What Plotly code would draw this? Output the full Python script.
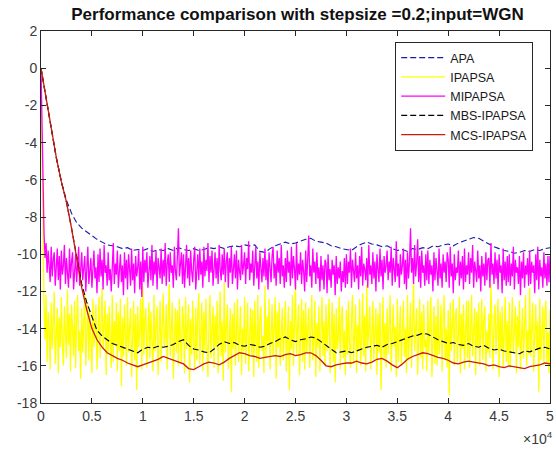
import numpy as np
import plotly.graph_objects as go

# ---------------- data ----------------
title_text = "Performance comparison with stepsize =0.2;input=WGN"
series_names = ["APA", "IPAPSA", "MIPAPSA", "MBS-IPAPSA", "MCS-IPAPSA"]

x_tick_vals = [0, 5000, 10000, 15000, 20000, 25000, 30000, 35000, 40000, 45000, 50000]
x_tick_text = ["0", "0.5", "1", "1.5", "2", "2.5", "3", "3.5", "4", "4.5", "5"]
y_tick_vals = [-18, -16, -14, -12, -10, -8, -6, -4, -2, 0, 2]
y_tick_text = ["-18", "-16", "-14", "-12", "-10", "-8", "-6", "-4", "-2", "0", "2"]

# noisy curves sampled every 100 iterations
noisy_step = 100
ipapsa = [
    0, -4.5, -9.0, -12.8, -14.6, -12.2, -15.8, -13.1, -14.0, -16.2, -12.6, -15.1, -13.7, -12.0, -15.9, -14.2, -12.9, -16.4, -13.4, -15.0,
    -12.3, -14.7, -16.0, -12.8, -13.9, -15.6, -11.9, -14.9, -13.2, -16.3, -12.7, -14.4, -15.5, -12.5, -16.1, -13.6, -12.2, -15.2, -14.1, -16.7,
    -12.9, -15.3, -13.5, -12.1, -16.0, -14.3, -12.6, -15.7, -13.0, -14.8, -16.4, -12.4, -15.0, -13.8, -12.7, -16.2, -14.5, -12.3, -15.6, -13.3,
    -11.8, -15.1, -14.0, -12.5, -16.5, -13.2, -15.4, -12.8, -14.6, -16.1, -12.2, -15.8, -13.6, -14.9, -12.6, -16.3, -13.1, -15.2, -12.4, -17.1,
    -13.4, -15.5, -12.7, -14.2, -16.0, -12.3, -15.3, -13.9, -12.9, -16.6, -14.4, -12.5, -15.7, -13.2, -17.3, -12.8, -15.0, -14.1, -12.4, -16.2,
    -11.7, -15.4, -13.5, -12.9, -16.1, -14.3, -12.6, -15.6, -13.1, -14.7, -16.3, -12.2, -15.2, -13.7, -12.8, -16.5, -14.0, -12.5, -15.8, -13.3,
    -12.1, -15.0, -14.4, -12.7, -16.2, -13.4, -11.6, -15.5, -13.9, -12.6, -16.7, -14.2, -12.9, -15.3, -13.0, -16.0, -12.4, -14.8, -15.9, -12.8,
    -13.6, -16.4, -12.3, -15.1, -14.0, -12.7, -16.9, -13.5, -15.4, -12.5, -14.6, -16.2, -12.9, -15.7, -13.2, -12.1, -15.9, -14.4, -12.6, -16.3,
    -13.1, -15.2, -12.4, -14.8, -16.6, -13.7, -12.2, -15.6, -14.1, -12.8, -16.1, -13.3, -15.0, -12.5, -16.4, -14.2, -12.0, -15.5, -13.6, -16.8,
    -11.5, -15.3, -13.9, -12.7, -16.2, -14.5, -12.9, -17.4, -13.2, -15.1, -12.6, -16.0, -14.3, -12.4, -15.8, -13.5, -12.8, -16.5, -14.0, -15.2,
    -12.3, -15.9, -13.4, -12.6, -16.3, -14.1, -12.9, -15.4, -13.0, -16.6, -12.5, -14.7, -15.8, -12.2, -16.1, -13.6, -12.8, -15.2, -14.4, -16.4,
    -11.7, -15.6, -13.3, -14.9, -12.4, -16.2, -13.8, -12.7, -15.5, -14.2, -12.3, -16.7, -13.1, -15.0, -12.6, -16.0, -14.5, -12.9, -15.7, -13.2,
    -12.5, -16.3, -14.0, -12.8, -17.3, -13.6, -15.1, -12.2, -16.0, -14.3, -11.6, -15.4, -13.5, -12.7, -16.5, -14.1, -12.4, -15.8, -13.0, -16.2,
    -12.6, -15.3, -14.4, -12.9, -16.1, -13.3, -12.2, -15.7, -14.6, -12.5, -16.6, -13.7, -15.0, -12.8, -16.3, -14.2, -12.3, -15.5, -13.6, -16.0,
    -12.7, -15.2, -13.9, -12.4, -16.4, -14.0, -12.6, -15.8, -13.2, -16.9, -12.9, -15.1, -14.5, -12.3, -16.2, -13.5, -12.8, -15.6, -14.1, -16.5,
    -13.0, -15.4, -12.5, -14.7, -16.1, -13.4, -12.2, -15.9, -14.3, -12.7, -16.4, -13.8, -15.2, -12.4, -16.0, -14.6, -12.1, -15.5, -13.3, -16.3,
    -11.6, -15.1, -14.0, -12.8, -16.2, -13.6, -12.5, -15.7, -14.4, -12.9, -16.5, -13.2, -15.3, -12.6, -17.3, -14.1, -12.3, -15.6, -13.7, -16.1,
    -12.9, -15.4, -13.3, -12.2, -16.3, -14.5, -12.7, -15.0, -13.9, -16.6, -12.4, -15.8, -14.2, -12.8, -16.0, -13.5, -12.5, -15.5, -14.0, -16.4,
    -12.2, -15.7, -13.8, -12.6, -16.1, -14.3, -11.5, -15.2, -13.4, -12.9, -16.5, -14.0, -12.4, -15.6, -13.1, -16.2, -12.7, -15.0, -14.6, -16.3,
    -12.5, -15.3, -13.6, -12.3, -16.6, -14.2, -12.8, -15.9, -13.3, -16.0, -12.4, -15.4, -14.5, -12.7, -16.3, -13.7, -12.2, -15.7, -14.0, -16.1,
    -13.0, -17.6, -12.6, -15.2, -14.1, -12.4, -16.0, -13.5, -12.9, -15.8, -14.4, -12.3, -16.4, -13.2, -15.1, -12.7, -16.2, -14.0, -12.5, -15.6,
    -12.5, -16.1, -13.8, -12.2, -15.5, -14.3, -12.9, -16.5, -13.1, -15.0, -12.6, -16.0, -14.6, -12.4, -15.7, -13.4, -12.8, -16.3, -14.1, -15.3,
    -13.2, -15.6, -11.6, -14.9, -16.2, -13.5, -12.7, -15.4, -14.0, -12.4, -16.6, -13.1, -15.2, -12.8, -16.1, -14.4, -12.3, -15.8, -13.6, -16.0,
    -12.6, -16.1, -13.9, -12.3, -15.3, -14.2, -12.8, -16.4, -13.3, -15.0, -12.5, -16.2, -14.5, -12.9, -15.6, -13.7, -12.2, -16.0, -14.1, -15.4,
    -11.8, -15.5, -13.4, -12.6, -16.3, -14.0, -12.7, -15.1, -13.6, -17.4, -12.4, -15.7, -14.3, -12.8, -16.0, -13.2, -12.5, -15.9, -14.2, -16.4,
    -13.0,
]
mipapsa = [
    0, -3.5, -6.8, -8.9, -10.2, -9.4, -11.0, -9.8, -10.6, -11.5, -9.6, -11.2, -10.3, -9.9, -11.7, -10.5, -9.7, -11.4, -10.1, -11.9,
    -9.8, -11.1, -10.6, -9.5, -11.6, -10.2, -10.9, -11.8, -9.7, -11.3, -10.4, -9.9, -11.9, -10.6, -10.0, -11.5, -10.8, -9.6, -11.7, -10.3,
    -9.9, -11.4, -10.7, -10.1, -12.0, -10.4, -9.6, -11.6, -10.9, -10.2, -11.8, -10.5, -9.8, -11.3, -10.7, -12.1, -10.0, -11.5, -9.7, -11.2,
    -10.3, -11.9, -9.5, -11.0, -10.6, -11.7, -9.9, -11.4, -10.8, -12.0, -10.2, -9.4, -11.6, -10.5, -11.1, -9.8, -11.8, -10.4, -10.0, -11.5,
    -10.6, -12.2, -9.9, -11.3, -10.3, -11.9, -10.0, -10.8, -11.7, -9.7, -11.4, -10.5, -12.1, -10.1, -11.2, -10.7, -9.8, -11.9, -10.4, -12.3,
    -9.6, -11.5, -10.3, -11.0, -9.9, -11.8, -10.6, -10.1, -11.4, -9.5, -11.7, -10.4, -11.1, -9.8, -11.9, -10.2, -10.7, -11.3, -9.7, -11.6,
    -10.3, -11.2, -9.4, -11.7, -10.5, -10.0, -11.5, -9.9, -11.0, -10.6, -11.8, -9.6, -10.9, -11.4, -10.1, -8.6, -11.2, -10.4, -9.9, -11.6,
    -10.0, -11.8, -10.5, -9.5, -11.3, -10.2, -11.7, -9.8, -10.9, -11.5, -10.3, -9.6, -11.9, -10.6, -10.0, -11.4, -9.7, -11.1, -10.4, -11.8,
    -9.6, -11.2, -10.3, -10.9, -9.4, -11.5, -10.1, -11.0, -9.8, -11.7, -10.5, -9.9, -11.3, -10.2, -11.6, -9.5, -10.8, -11.4, -10.0, -11.1,
    -9.7, -11.5, -10.4, -9.9, -11.8, -10.2, -11.0, -9.6, -11.6, -10.5, -10.0, -11.3, -9.8, -11.9, -10.3, -10.9, -11.4, -9.5, -11.1, -10.6,
    -9.9, -11.6, -10.2, -10.8, -9.3, -11.4, -10.5, -11.0, -9.8, -11.7, -10.1, -9.6, -11.3, -10.4, -11.9, -9.9, -10.7, -11.5, -10.2, -11.2,
    -9.7, -11.4, -10.3, -11.9, -9.9, -10.8, -11.5, -10.1, -9.6, -11.3, -10.5, -11.7, -9.8, -11.0, -10.2, -11.6, -9.5, -11.2, -10.6, -11.8,
    -10.2, -11.5, -9.8, -11.0, -10.4, -11.7, -9.6, -11.3, -10.1, -10.8, -11.9, -9.4, -11.4, -10.5, -11.1, -9.9, -11.6, -10.3, -10.9, -12.0,
    -9.8, -11.5, -10.2, -9.0, -11.2, -10.6, -11.8, -9.7, -11.0, -10.4, -11.6, -9.9, -11.3, -10.7, -12.0, -10.1, -11.4, -10.6, -11.9, -10.3,
    -10.5, -12.1, -10.0, -11.4, -10.8, -11.8, -10.3, -11.1, -10.6, -12.2, -10.1, -11.6, -10.7, -11.3, -10.4, -12.0, -10.9, -11.5, -10.2, -11.8,
    -10.0, -11.6, -10.4, -11.0, -9.7, -11.8, -10.3, -10.9, -11.5, -9.9, -11.3, -10.6, -11.9, -10.1, -11.2, -9.6, -11.7, -10.5, -10.8, -11.4,
    -10.2, -11.8, -9.5, -11.1, -10.6, -11.6, -9.9, -11.3, -10.4, -12.0, -10.0, -10.8, -11.5, -9.7, -11.2, -10.3, -11.9, -10.1, -11.0, -10.6,
    -9.8, -11.4, -10.4, -11.0, -9.6, -11.7, -10.2, -10.8, -11.5, -9.3, -11.2, -10.5, -11.8, -10.0, -11.1, -10.6, -9.7, -11.6, -10.3, -11.9,
    -9.9, -11.3, -10.4, -8.6, -11.0, -10.2, -11.6, -9.5, -11.2, -10.5, -9.2, -11.5, -10.1, -11.8, -9.8, -11.0, -10.6, -11.7, -10.0, -11.4,
    -9.8, -11.6, -10.3, -11.1, -10.6, -12.0, -9.9, -11.4, -10.2, -10.9, -11.7, -9.7, -11.3, -10.5, -11.8, -10.0, -11.0, -10.4, -11.5, -9.9,
    -10.3, -11.8, -9.6, -11.2, -10.5, -12.1, -10.0, -11.4, -10.7, -11.0, -9.8, -11.7, -10.4, -11.3, -10.1, -11.9, -9.7, -11.5, -10.6, -11.1,
    -9.9, -11.6, -10.2, -11.0, -9.5, -11.8, -10.4, -10.9, -11.5, -9.8, -11.3, -10.6, -12.0, -10.1, -11.2, -10.5, -11.7, -9.9, -11.4, -10.3,
    -10.2, -11.8, -9.4, -11.1, -10.5, -11.6, -9.9, -11.3, -10.3, -11.9, -10.0, -11.0, -10.6, -12.1, -9.7, -11.4, -10.4, -11.7, -10.1, -11.5,
    -10.0, -11.7, -10.5, -11.2, -9.6, -11.9, -10.3, -11.0, -10.7, -11.6, -10.1, -12.2, -10.4, -11.3, -9.9, -11.8, -10.6, -11.1, -10.2, -11.7,
    -9.8, -11.6, -10.4, -11.0, -10.6, -12.1, -10.0, -11.4, -9.6, -11.9, -10.3, -11.2, -10.7, -11.8, -9.9, -11.3, -10.5, -11.7, -10.1, -11.5,
    -10.1,
]

# smooth curves sampled every 500 iterations
smooth_step = 500
apa = [
    0, -1.6, -3.2, -4.8, -6.1, -7.1, -7.8, -8.3, -8.6, -8.8,
    -9.0, -9.2, -9.35, -9.5, -9.55, -9.6, -9.7, -9.65, -9.8, -9.75,
    -9.8, -9.7, -9.85, -9.75, -9.8, -9.7, -9.8, -9.65, -9.75, -9.8,
    -9.7, -9.8, -9.75, -9.65, -9.7, -9.6, -9.7, -9.6, -9.55, -9.6,
    -9.5, -9.55, -9.5, -9.85, -9.9, -9.7, -9.55, -9.45, -9.35, -9.45,
    -9.4, -9.3, -9.2, -9.15, -9.3, -9.35, -9.4, -9.55, -9.6, -9.7,
    -9.75, -9.8, -9.6, -9.45, -9.35, -9.45, -9.5, -9.6, -9.55, -9.7,
    -9.8, -9.75, -9.85, -9.7, -9.75, -9.65, -9.7, -9.55, -9.6, -9.5,
    -9.45, -9.55, -9.4, -9.3, -9.2, -9.1, -9.15, -9.3, -9.45, -9.6,
    -9.7, -9.8, -9.85, -9.95, -9.9, -9.8, -9.85, -9.75, -9.8, -9.7, -9.65,
]
mbs_ipapsa = [
    0, -1.6, -3.2, -4.8, -6.1, -7.2, -8.6, -10.2, -11.6, -12.6,
    -13.3, -14.1, -14.4, -14.6, -14.8, -14.9, -15.0, -15.1, -15.2, -15.3,
    -15.1, -15.0, -15.05, -14.95, -15.0, -14.95, -14.85, -14.7, -14.6, -14.9,
    -15.1, -15.15, -15.25, -15.3, -15.1, -14.85, -14.7, -14.8, -14.75, -14.9,
    -14.95, -14.85, -14.9, -15.0, -14.95, -14.8, -14.7, -14.55, -14.45, -14.6,
    -14.7, -14.6, -14.55, -14.45, -14.5, -14.7, -14.9, -15.1, -15.3, -15.25,
    -15.2, -15.3, -15.2, -15.1, -15.0, -14.95, -14.9, -15.0, -14.85, -14.8,
    -14.7, -14.6, -14.5, -14.4, -14.35, -14.25, -14.3, -14.45, -14.6, -14.7,
    -14.8, -14.75, -14.85, -14.9, -14.8, -14.95, -15.0, -14.9, -15.05, -15.15,
    -15.1, -15.2, -15.25, -15.3, -15.35, -15.2, -15.25, -15.15, -15.05, -15.0, -15.1,
]
mcs_ipapsa = [
    0, -1.6, -3.2, -4.8, -6.1, -7.2, -8.6, -10.2, -11.8, -13.0,
    -14.0, -14.6, -15.0, -15.3, -15.45, -15.6, -15.7, -15.85, -15.95, -16.05,
    -15.95, -15.85, -15.75, -15.65, -15.5, -15.6, -15.7, -15.8, -15.9, -16.15,
    -16.2, -16.05, -15.9, -15.8, -15.85, -15.95, -15.8, -15.6, -15.45, -15.3,
    -15.35, -15.45, -15.5, -15.6, -15.55, -15.5, -15.45, -15.5, -15.4, -15.35,
    -15.45, -15.4, -15.3, -15.3, -15.45, -15.7, -16.0, -16.05, -15.95, -15.9,
    -15.85, -15.85, -15.75, -15.85, -15.9, -15.8, -15.65, -15.6, -15.75, -15.95,
    -16.1, -15.9, -15.65, -15.5, -15.4, -15.3, -15.35, -15.45, -15.55, -15.6,
    -15.7, -15.85, -15.9, -15.8, -15.75, -15.8, -15.85, -15.9, -16.0, -15.95,
    -16.05, -16.1, -16.0, -16.05, -16.1, -16.15, -16.05, -16.0, -15.95, -15.85, -15.9,
]

# ---------------- figure ----------------
W, H = 556, 450
ML, MR, MT, MB = 41, 2, 31, 47
PW, PH = W - ML - MR, H - MT - MB
axis_col = "#262626"
txt_col = "#3a3a3a"
font_fam = "Liberation Sans, Arial, Helvetica, sans-serif"

fig = go.Figure()
fig.add_trace(go.Scatter(x=np.arange(len(apa)) * smooth_step, y=apa, mode="lines",
                         name=series_names[0],
                         line=dict(color="#1a1aa8", width=1.1, dash="6px,3px")))
fig.add_trace(go.Scatter(x=np.arange(len(ipapsa)) * noisy_step, y=ipapsa, mode="lines",
                         name=series_names[1], line=dict(color="#ffff00", width=1.3)))
fig.add_trace(go.Scatter(x=np.arange(len(mipapsa)) * noisy_step, y=mipapsa, mode="lines",
                         name=series_names[2], line=dict(color="#ff00ff", width=1.3)))
fig.add_trace(go.Scatter(x=np.arange(len(mbs_ipapsa)) * smooth_step, y=mbs_ipapsa, mode="lines",
                         name=series_names[3],
                         line=dict(color="#000000", width=1.1, dash="6px,3px")))
fig.add_trace(go.Scatter(x=np.arange(len(mcs_ipapsa)) * smooth_step, y=mcs_ipapsa, mode="lines",
                         name=series_names[4], line=dict(color="#cc1a0a", width=1.3)))

fig.update_layout(
    width=W, height=H,
    margin=dict(l=ML, r=MR, t=MT, b=MB, pad=0),
    paper_bgcolor="white", plot_bgcolor="white",
    font=dict(family=font_fam, color=txt_col, size=14),
    title=dict(text="<b>" + title_text + "</b>", x=297.5 / W, xanchor="center",
               y=1 - 14 / H, yanchor="middle",
               font=dict(size=17, color="#111111", family=font_fam)),
    showlegend=True,
    legend=dict(x=(398 - ML) / PW, y=(H - MB - 42) / PH,
                xanchor="left", yanchor="top",
                bgcolor="white", bordercolor=axis_col, borderwidth=1,
                font=dict(size=12.5, color="#1a1a1a", family=font_fam),
                tracegroupgap=0, itemwidth=44, entrywidth=100),
    xaxis=dict(range=[0, 50000], tickmode="array", tickvals=x_tick_vals, ticktext=x_tick_text,
               ticks="inside", ticklen=5, tickcolor=axis_col, showline=True, linecolor=axis_col,
               linewidth=1, mirror="ticks", showgrid=False, zeroline=False,
               ticklabeloverflow="allow",
               tickfont=dict(size=14, color=txt_col)),
    yaxis=dict(range=[-18, 2], tickmode="array", tickvals=y_tick_vals, ticktext=y_tick_text,
               ticks="inside", ticklen=5, tickcolor=axis_col, showline=True, linecolor=axis_col,
               linewidth=1, mirror="ticks", showgrid=False, zeroline=False,
               ticklabeloverflow="allow",
               tickfont=dict(size=14, color=txt_col)),
)

fig.add_annotation(text="×10<sup>4</sup>", xref="paper", yref="paper",
                   x=(559 - ML) / PW, y=-(449 - (H - MB)) / PH, xanchor="right", yanchor="bottom",
                   showarrow=False, font=dict(size=14, color=txt_col, family=font_fam))

fig.write_html("out.html", config={"displayModeBar": False},
               post_script="document.body.style.margin='0';document.body.style.overflow='hidden';")
